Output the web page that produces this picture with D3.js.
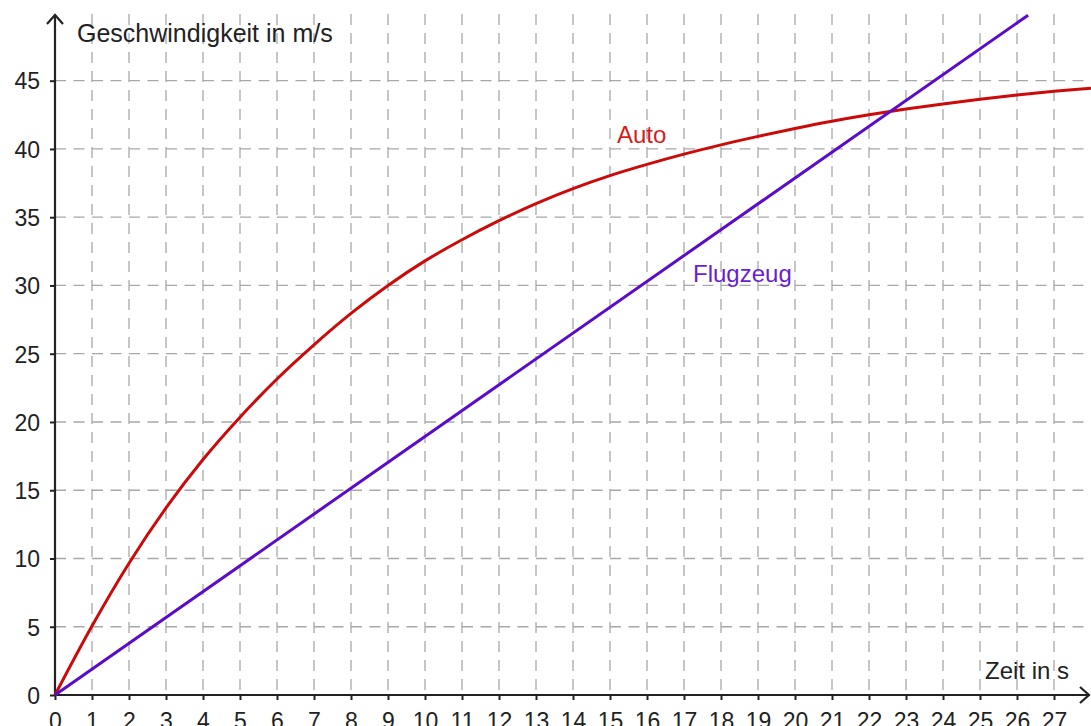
<!DOCTYPE html>
<html><head><meta charset="utf-8">
<script src="https://cdn.jsdelivr.net/npm/d3@7"></script>
<style>html,body{margin:0;padding:0;background:#fff;overflow:hidden}</style>
</head><body>
<svg id="c" width="1091" height="726"></svg>
<script>
// Data
const autoTime = [0,1,2,3,4,5,6,7,8,9,10,11,12,13,14,15,16,17,18,19,20,21,22,23,24,25,26,27,28];
const autoSpeed = [0,5.05,9.65,13.7,17.25,20.35,23.15,25.65,27.95,30.0,31.8,33.35,34.75,36.0,37.1,38.05,38.87,39.62,40.3,40.92,41.5,42.03,42.5,42.92,43.3,43.64,43.95,44.22,44.45];
const flugTime = [0, 26.3];
const flugSpeed = [0, 49.8];
const xTicks = d3.range(0, 28);
const yTicks = [0,5,10,15,20,25,30,35,40,45];
const yLabel = "Geschwindigkeit in m/s";
const xLabel = "Zeit in s";

const svg = d3.select("#c");
const x = d3.scaleLinear().domain([0, 27]).range([55, 1054]);
const y = d3.scaleLinear().domain([0, 45]).range([695, 80.7]);
const font = "'Liberation Sans', Arial, sans-serif";
const axisColor = "#222";

// grid
const g = svg.append("g");
g.selectAll("line.v").data(xTicks.filter(d => d > 0)).join("line")
  .attr("x1", d => x(d)).attr("x2", d => x(d))
  .attr("y1", 14).attr("y2", 695)
  .attr("stroke", "#a8a8a8").attr("stroke-width", 1.3)
  .attr("stroke-dasharray", "11,8");
g.selectAll("line.h").data(yTicks.filter(d => d > 0)).join("line")
  .attr("x1", 55).attr("x2", 1091)
  .attr("y1", d => y(d)).attr("y2", d => y(d))
  .attr("stroke", "#a8a8a8").attr("stroke-width", 1.3)
  .attr("stroke-dasharray", "11,7.5");

// axes
const xAxis = d3.axisBottom(x).tickValues(xTicks).tickSize(5).tickPadding(13);
const yAxis = d3.axisLeft(y).tickValues(yTicks).tickSize(5).tickPadding(10);
const gx = svg.append("g").attr("transform", "translate(0,695)").call(xAxis);
const gy = svg.append("g").attr("transform", "translate(55,0)").call(yAxis);
[gx, gy].forEach(a => {
  a.select(".domain").remove();
  a.selectAll(".tick line").attr("stroke", axisColor).attr("stroke-width", 2);
  a.selectAll(".tick text").attr("fill", axisColor).attr("font-family", font).attr("font-size", 23);
});
gx.selectAll(".tick text").attr("dy", "0.71em");
gy.selectAll(".tick text").attr("dy", "0.36em");

// axis lines with arrows
svg.append("line").attr("x1", 55).attr("x2", 55).attr("y1", 695).attr("y2", 15)
  .attr("stroke", axisColor).attr("stroke-width", 2.2);
svg.append("path").attr("d", "M47,24 L55,15 L63,24").attr("fill", "none")
  .attr("stroke", axisColor).attr("stroke-width", 2.2);
svg.append("line").attr("x1", 55).attr("x2", 1089).attr("y1", 695).attr("y2", 695)
  .attr("stroke", axisColor).attr("stroke-width", 2.2);
svg.append("path").attr("d", "M1080,687 L1089,695 L1080,703").attr("fill", "none")
  .attr("stroke", axisColor).attr("stroke-width", 2.2);

// series
const line = d3.line().x(d => x(d[0])).y(d => y(d[1])).curve(d3.curveCatmullRom.alpha(0.5));
svg.append("path").datum(autoTime.map((t, i) => [t, autoSpeed[i]]))
  .attr("d", line).attr("fill", "none").attr("stroke", "#cc0a0a").attr("stroke-width", 3);
svg.append("path").datum(flugTime.map((t, i) => [t, flugSpeed[i]]))
  .attr("d", d3.line().x(d => x(d[0])).y(d => y(d[1])))
  .attr("fill", "none").attr("stroke", "#5a0cc8").attr("stroke-width", 3);

// labels
svg.append("text").attr("x", 77).attr("y", 42).text(yLabel)
  .attr("font-family", font).attr("font-size", 25).attr("fill", axisColor);
svg.append("text").attr("x", 1069).attr("y", 679).attr("text-anchor", "end").text(xLabel)
  .attr("font-family", font).attr("font-size", 24).attr("fill", axisColor);
svg.append("text").attr("x", 617).attr("y", 143).text("Auto")
  .attr("font-family", font).attr("font-size", 24).attr("fill", "#d81c1c");
svg.append("text").attr("x", 693).attr("y", 282).text("Flugzeug")
  .attr("font-family", font).attr("font-size", 24).attr("fill", "#6a1ed2");
</script>
</body></html>
